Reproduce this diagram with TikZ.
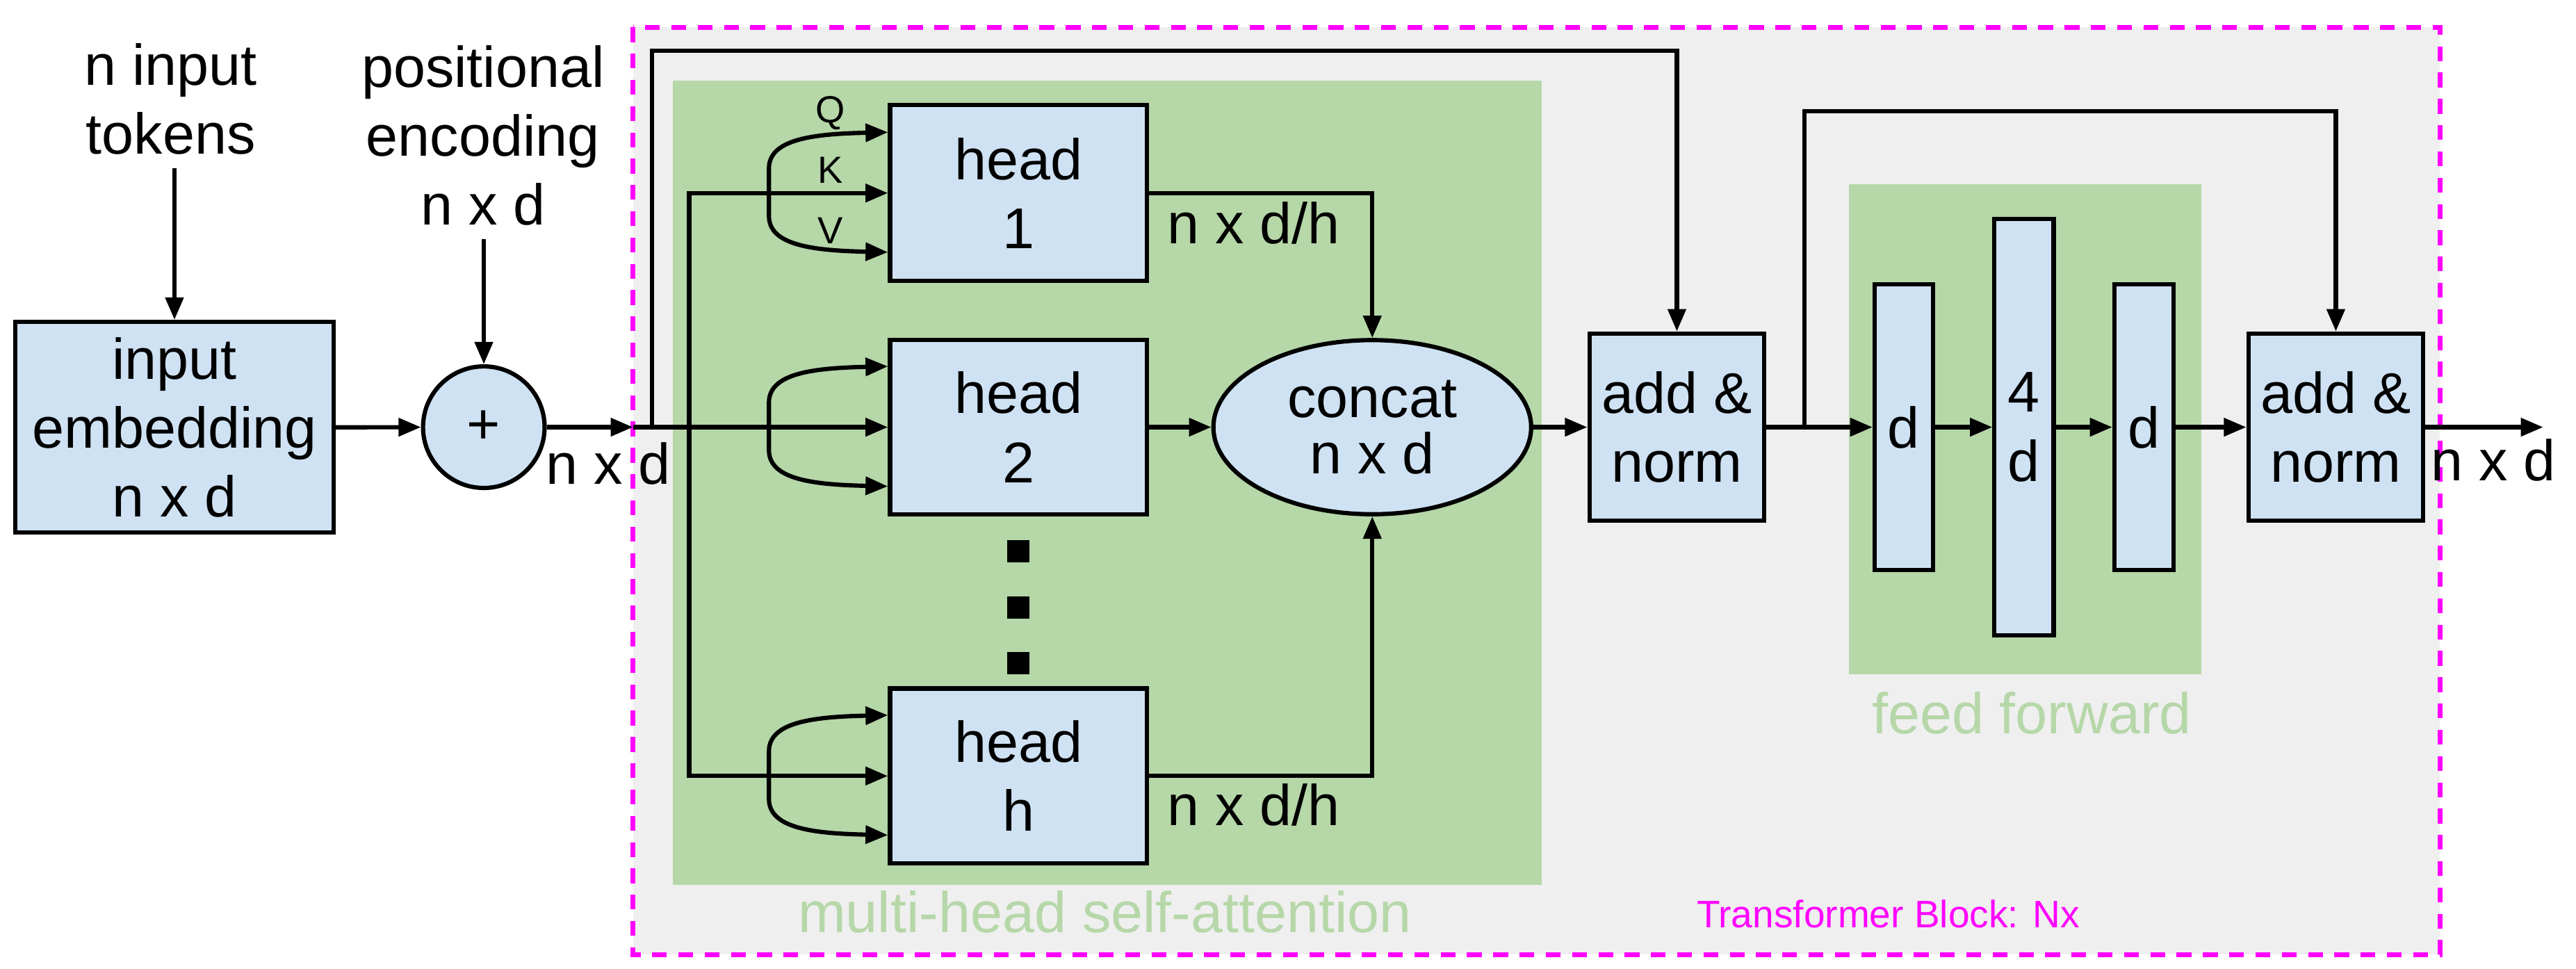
\documentclass[tikz,border=0pt]{standalone}
\usepackage{fontspec}
\setmainfont{Liberation Sans}
\usetikzlibrary{arrows.meta,shapes.geometric,calc}
\definecolor{boxblue}{HTML}{CFE2F3}
\definecolor{grn}{HTML}{B6D7A8}
\definecolor{gry}{HTML}{EFEFEF}
\definecolor{mag}{HTML}{FF00FF}
\begin{document}
\begin{tikzpicture}[x=1pt,y=-1pt,
  font=\fontsize{35}{42}\selectfont,
  arr/.style={line width=2.6pt,-{Triangle[length=13.6pt,width=10.8pt]}},
  arrboth/.style={line width=2.6pt,{Triangle[length=13.6pt,width=10.8pt]}-{Triangle[length=13.6pt,width=10.8pt]}},
  blk/.style={draw,line width=2.6pt,fill=boxblue,inner sep=0pt,align=center},
  lbl/.style={inner sep=8pt,align=center},
  small/.style={font=\fontsize{23}{28}\selectfont},
  sqdot/.style={fill=black,minimum size=13.6pt,inner sep=0pt}
]
\useasboundingbox (0,0) rectangle (1568,589.4);
\fill[white] (0,0) rectangle (1568,589.4);
% backgrounds
\fill[gry] (385.3,16.6) rectangle (1485.1,581);
\draw[mag,dash pattern=on 9pt off 7pt,line width=3pt] (385.3,16.6) rectangle (1485.1,581);
\fill[grn] (409.5,49) rectangle (938.5,538.5);
\fill[grn] (1125.6,112) rectangle (1340,410.5);
% input side
\node[lbl] (tok) at (104,60.3) {n input\\tokens};
\node[lbl] (pos) at (294,82.4) {positional\\encoding\\n x d};
\node[blk,minimum width=193.6pt,minimum height=128.3pt] (emb) at (106.2,260.1) {input\\embedding\\n x d};
\node[blk,circle,minimum size=74pt] (plus) at (294.5,260) {+};
% heads
\node[blk,minimum width=156.3pt,minimum height=107pt] (h1) at (619.9,117.5) {head\\1};
\node[blk,minimum width=156.3pt,minimum height=106pt] (h2) at (619.9,260) {head\\2};
\node[blk,minimum width=156.3pt,minimum height=106.5pt] (hh) at (619.9,472.3) {head\\h};
\node[sqdot] (dot1) at (620,335.6) {};
\node[sqdot] (dot2) at (620,369.7) {};
\node[sqdot] (dot3) at (620,403.6) {};
\node[blk,ellipse,minimum width=193.4pt,minimum height=106pt,font=\fontsize{35}{34}\selectfont] (cc) at (835.3,260) {concat\\n x d};
% add & norm, feed forward
\node[blk,minimum width=106.5pt,minimum height=114pt] (an1) at (1020.7,260) {add \&\\norm};
\node[blk,minimum width=35.5pt,minimum height=174.2pt] (f1) at (1158.8,260) {d};
\node[blk,minimum width=36pt,minimum height=253.6pt] (f2) at (1232,260) {4\\d};
\node[blk,minimum width=36pt,minimum height=174.2pt] (f3) at (1305,260) {d};
\node[blk,minimum width=106.5pt,minimum height=114pt] (an2) at (1421.8,260) {add \&\\norm};
% labels
\node[anchor=base] (l1) at (763,148.2) {n x d/h};
\node[anchor=base] (l2) at (763,502.5) {n x d/h};
\node[anchor=base] (l3) at (370.3,294.6) {n x d};
\node[anchor=base] (l4) at (1517.7,292.4) {n x d};
\node[anchor=base,small] (q) at (505.3,74.6) {Q};
\node[anchor=base,small] (k) at (505.3,111.4) {K};
\node[anchor=base,small] (v) at (505.3,148.2) {V};
\node[anchor=base,text=grn] (mhsa) at (672.5,567.6) {multi-head self-attention};
\node[anchor=base,text=grn] (ffl) at (1236.7,446.7) {feed forward};
\node[anchor=base,text=mag,font=\fontsize{23.3}{28}\selectfont] (tb) at (1149.3,564.6) {Transformer Block: Nx};
% connectors
\coordinate (bin) at (385.3,260);
\coordinate (s1) at (397,260);
\coordinate (br) at (419.5,260);
\coordinate (s2) at (1098.5,260);
\coordinate (out) at (1548,260);
\draw[arr] (emb.north |- tok.south) -- (emb.north);
\draw[arr] (plus.north |- pos.south) -- (plus.north);
\draw[arr] (emb.east) -- (plus.west);
\draw[arr] (plus.east) -- (bin);
\draw[arr] (bin) -- (h2.west);
\draw[arr] (s1) -- ++(0,-229) -| (an1.north);
\draw[arrboth] (h1.west) -| (br) |- (hh.west);
\foreach \n in {h1,h2,hh} {
  \draw[arrboth] ($(\n.west)+(0,-37)$) .. controls ($(\n.west)+(-45,-36)$) and ($(\n.west)+(-72.4,-33)$) .. ($(\n.west)+(-72.4,-15)$) -- ($(\n.west)+(-72.4,14)$) .. controls ($(\n.west)+(-72.4,32)$) and ($(\n.west)+(-45,35)$) .. ($(\n.west)+(0,36)$);
}
\draw[arr] (h1.east) -| (cc.north);
\draw[arr] (h2.east) -- (cc.west);
\draw[arr] (hh.east) -| (cc.south);
\draw[arr] (cc.east) -- (an1.west);
\draw[arr] (an1.east) -- (f1.west);
\draw[arr] (s2) -- ++(0,-192.2) -| (an2.north);
\draw[arr] (f1.east) -- (f2.west);
\draw[arr] (f2.east) -- (f3.west);
\draw[arr] (f3.east) -- (an2.west);
\draw[arr] (an2.east) -- (out);
\end{tikzpicture}
\end{document}
